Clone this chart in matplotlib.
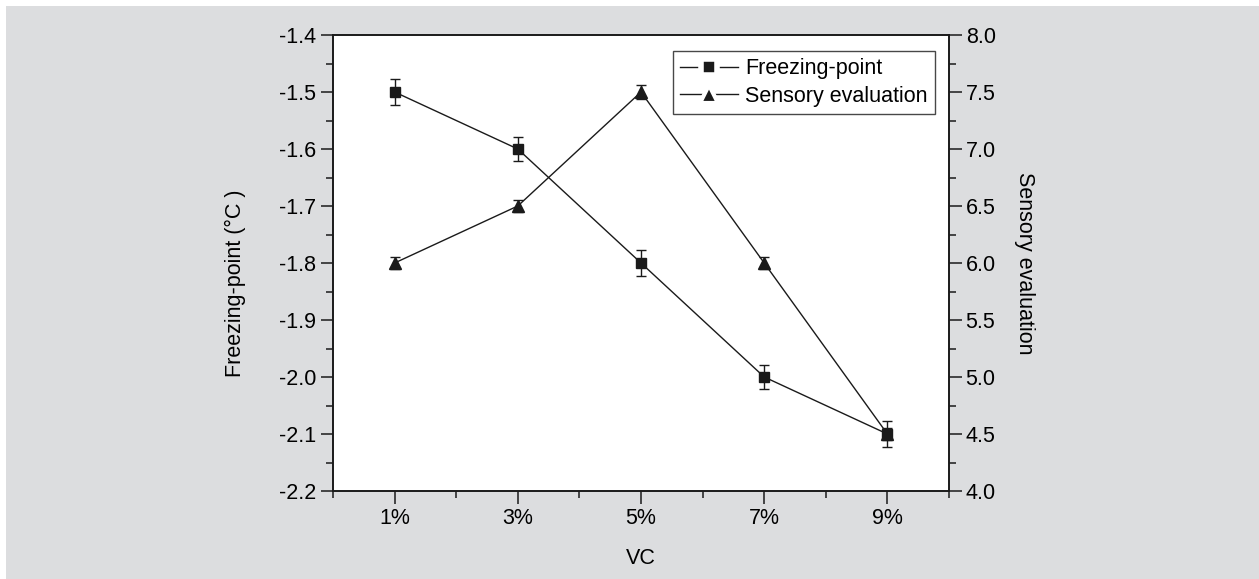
import matplotlib.pyplot as plt
from matplotlib.lines import Line2D
from matplotlib.patches import Rectangle
from matplotlib.ticker import MultipleLocator

plt.rcParams['font.family'] = ['Liberation Sans Narrow', 'Liberation Sans', 'DejaVu Sans']

# data
vc_labels = ['1%', '3%', '5%', '7%', '9%']
vc_pos = [1, 3, 5, 7, 9]
freezing = [-1.5, -1.6, -1.8, -2.0, -2.1]
freezing_err = [0.023, 0.021, 0.023, 0.021, 0.022]
sensory = [6.0, 6.5, 7.5, 6.0, 4.5]
sensory_err = [0.05, 0.05, 0.06, 0.05, 0.05]

ink = '#1a1a1a'
fs = 15.5

fig = plt.figure(figsize=(12.59, 5.79), dpi=100, facecolor='white')
# grey panel behind the chart, thin white strip at top and left
fig.patches.append(Rectangle((6 / 1259, 0), 1, 1 - 6 / 579, transform=fig.transFigure,
                             facecolor='#dcdddf', edgecolor='none', zorder=-10))

ax = fig.add_axes([333 / 1259, 1 - 491 / 579, 616 / 1259, 456 / 579])
ax2 = ax.twinx()

ax.errorbar(vc_pos, freezing, yerr=freezing_err, color=ink, lw=1, marker='s',
            ms=6.5, capsize=3.3, elinewidth=1, capthick=1)
ax2.errorbar(vc_pos, sensory, yerr=sensory_err, color=ink, lw=1, marker='^',
             ms=8, capsize=3.3, elinewidth=1, capthick=1)

ax.set_xlim(0, 10)
ax.set_xticks(vc_pos)
ax.set_xticklabels(vc_labels)
ax.xaxis.set_minor_locator(MultipleLocator(1))
ax.set_ylim(-2.2, -1.4)
ax.yaxis.set_major_locator(MultipleLocator(0.1))
ax.yaxis.set_minor_locator(MultipleLocator(0.05))
ax.set_yticklabels([f'{v:.1f}' for v in ax.get_yticks()])
ax2.set_ylim(4.0, 8.0)
ax2.yaxis.set_major_locator(MultipleLocator(0.5))
ax2.yaxis.set_minor_locator(MultipleLocator(0.25))

for a in (ax, ax2):
    a.tick_params(which='major', length=9, width=1.1, labelsize=fs, pad=3, color=ink)
    a.tick_params(which='minor', length=5, width=1.1, color=ink)
    for s in a.spines.values():
        s.set_linewidth(1.2)
        s.set_color(ink)

ax.set_xlabel('VC', fontsize=fs, labelpad=14)
ax.set_ylabel('Freezing-point (°C )', fontsize=fs)
ax.yaxis.set_label_coords(-0.141, 0.456)
ax2.set_ylabel('Sensory evaluation', fontsize=fs, rotation=270, labelpad=28)

# legend handles: line - marker - line, white marker edge leaves a gap
h1 = Line2D([], [], color=ink, lw=1, marker='s', ms=11, mfc=ink, mec='white', mew=4)
h2 = Line2D([], [], color=ink, lw=1, marker='^', ms=13, mfc=ink, mec='white', mew=3)
leg = ax.legend([h1, h2], ['Freezing-point', 'Sensory evaluation'], loc='upper right',
                bbox_to_anchor=(0.977, 0.965), fontsize=fs, frameon=True, fancybox=False,
                handlelength=2.7, handletextpad=0.3, borderpad=0.35, labelspacing=0.3,
                borderaxespad=0, numpoints=1)
leg.get_frame().set_edgecolor(ink)
leg.get_frame().set_linewidth(1.0)

fig.savefig('out.png', dpi=100, facecolor=fig.get_facecolor())
